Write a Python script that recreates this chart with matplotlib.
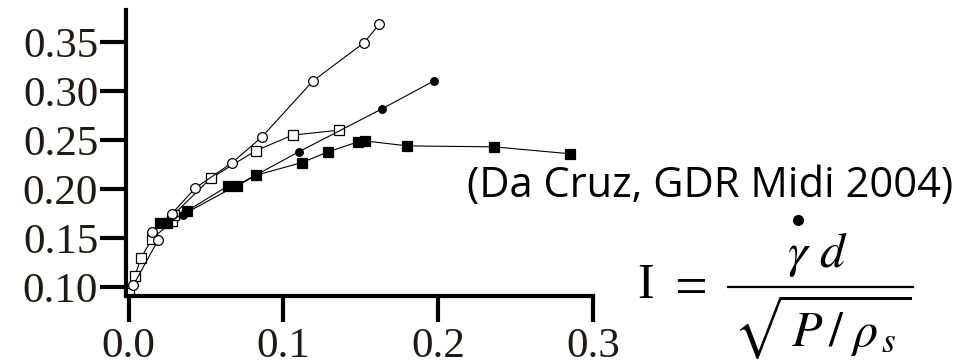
import matplotlib
matplotlib.use("Agg")
import matplotlib.pyplot as plt
from matplotlib.lines import Line2D

# friction coefficient mu versus inertial number I, four flow configurations
open_circle_I = [0.003, 0.019, 0.015, 0.028, 0.043, 0.067, 0.086, 0.119, 0.152, 0.162]
open_circle_mu = [0.102, 0.148, 0.156, 0.175, 0.201, 0.227, 0.253, 0.310, 0.349, 0.368]

open_square_I = [0.000, 0.004, 0.008, 0.015, 0.028, 0.029, 0.053, 0.082, 0.106, 0.136]
open_square_mu = [0.094, 0.111, 0.130, 0.149, 0.167, 0.174, 0.211, 0.239, 0.255, 0.260]

filled_circle_I = [0.035, 0.110, 0.164, 0.197]
filled_circle_mu = [0.174, 0.238, 0.282, 0.310]

filled_square_I = [0.020, 0.025, 0.038, 0.064, 0.070, 0.082, 0.112, 0.129,
                   0.148, 0.153, 0.180, 0.236, 0.285]
filled_square_mu = [0.165, 0.165, 0.178, 0.203, 0.203, 0.214, 0.227, 0.238,
                    0.248, 0.249, 0.244, 0.243, 0.236]

x_ticks = [0.0, 0.1, 0.2, 0.3]
x_tick_labels = ["0.0", "0.1", "0.2", "0.3"]
y_ticks = [0.10, 0.15, 0.20, 0.25, 0.30, 0.35]
y_tick_labels = ["0.10", "0.15", "0.20", "0.25", "0.30", "0.35"]

plt.rcParams["mathtext.fontset"] = "stix"

W, H = 974, 364
fig = plt.figure(figsize=(W / 100, H / 100), dpi=100)


def px(x, y):
    # pixel position (from top-left) -> figure fraction
    return x / W, 1 - y / H


ax = fig.add_axes([126 / W, (H - 296) / H, (593 - 126) / W, (296 - 10) / H])

line_kw = dict(color="black", lw=0.8, markeredgecolor="black", markeredgewidth=0.9)
ax.plot(open_square_I, open_square_mu, marker="s", ms=7.5, mfc="white", **line_kw)
ax.plot(open_circle_I, open_circle_mu, marker="o", ms=7, mfc="white", **line_kw)
ax.plot(filled_circle_I, filled_circle_mu, marker="o", ms=5.5, mfc="black", **line_kw)
ax.plot(filled_square_I, filled_square_mu, marker="s", ms=6.5, mfc="black", **line_kw)

ax.set_xlim(-0.0017, 0.3)
ax.set_ylim(0.0911, 0.3824)

for s in ["top", "right"]:
    ax.spines[s].set_visible(False)
for s in ["left", "bottom"]:
    ax.spines[s].set_linewidth(3)
    ax.spines[s].set_color("black")

tick_font = dict(family="Liberation Serif", size=31, color="#1f1a17")
ax.set_xticks(x_ticks)
ax.set_xticklabels(x_tick_labels, fontdict=tick_font)
ax.set_yticks(y_ticks)
ax.set_yticklabels(y_tick_labels, fontdict=tick_font)
ax.tick_params(axis="both", direction="out", length=19, width=3, color="black")
ax.tick_params(axis="x", pad=4)
ax.tick_params(axis="y", pad=1)
ax.set_facecolor("white")

fig.text(*px(467, 197), "(Da Cruz, GDR Midi 2004)", family="Open Sans",
         fontsize=30, color="black", ha="left", va="baseline")

# I = gamma_dot d / sqrt(P / rho_s), laid out piece by piece
fig.text(*px(637, 298), "I", family="Liberation Serif", fontsize=36,
         color="black", ha="left", va="baseline")
fig.text(*px(691, 305), "=", family="Liberation Serif", fontsize=42,
         color="black", ha="center", va="baseline")
fig.add_artist(Line2D([728 / W, 913 / W], [1 - 287 / H, 1 - 287 / H],
                      color="black", lw=1.6))
fig.text(*px(817, 267), r"$\gamma\ d$", fontsize=36, color="black",
         ha="center", va="baseline")
# rate dot over gamma
fig.add_artist(Line2D([798 / W], [1 - 220 / H], marker="o", ms=7,
                      color="black", linestyle="none"))
fig.text(*px(733, 346), r"$\sqrt{\,P\,/\;\rho_{\,s}\,}$", fontsize=36,
         color="black", ha="left", va="baseline")

fig.savefig("out.png", dpi=100, facecolor="white")
